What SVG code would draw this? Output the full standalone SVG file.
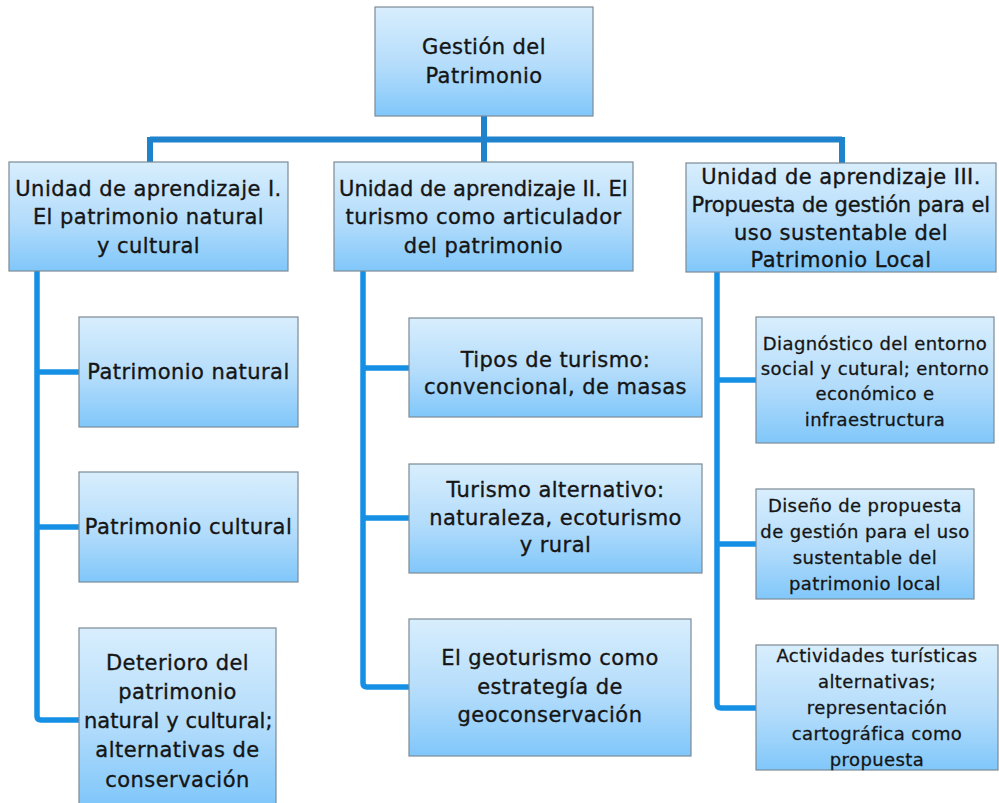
<svg xmlns="http://www.w3.org/2000/svg" width="999" height="803" viewBox="0 0 999 803">
<defs>
<linearGradient id="g" x1="0" y1="0" x2="0" y2="1">
<stop offset="0" stop-color="#d8eefd"/>
<stop offset="0.55" stop-color="#b3dcfb"/>
<stop offset="1" stop-color="#80c7fa"/>
</linearGradient>
</defs>
<style>
.box{fill:url(#g);stroke:#7d8a96;stroke-width:1.2}
.t{font-family:"DejaVu Sans",sans-serif;font-size:21px;letter-spacing:0.45px;fill:#151515;stroke:#151515;stroke-width:0.35px;text-anchor:middle}
.s{font-family:"DejaVu Sans",sans-serif;font-size:18px;letter-spacing:0.4px;fill:#151515;stroke:#151515;stroke-width:0.3px;text-anchor:middle}
.c1{fill:none;stroke:#1e82cc;stroke-width:6}
.c2{fill:none;stroke:#1690e4;stroke-width:5.5;stroke-linejoin:round}
</style>
<rect width="999" height="803" fill="#ffffff"/>
<g id="connectors">
<path class="c1" d="M484,116 V162 M150,139.5 H842 M150,137 V162 M842,137 V163"/>
<path class="c2" d="M37,271 V716 Q37,720 41,720 H79 M37,372 H79 M37,527 H79"/>
<path class="c2" d="M363,271 V683 Q363,687 367,687 H409 M363,368 H409 M363,518 H409"/>
<path class="c2" d="M717,272 V704 Q717,708 721,708 H756 M717,380 H756 M717,544 H756"/>
</g>
<g id="root">
<rect class="box" x="375" y="7" width="218" height="109"/>
<text class="t" x="484" y="54">Gestión del</text>
<text class="t" x="484" y="83">Patrimonio</text>
</g>
<g id="unit1">
<rect class="box" x="9" y="162" width="279" height="109"/>
<text class="t" x="148.5" y="195.5">Unidad de aprendizaje I.</text>
<text class="t" x="148.5" y="224">El patrimonio natural</text>
<text class="t" x="148.5" y="252.5">y cultural</text>
</g>
<g id="unit2">
<rect class="box" x="334" y="162" width="299" height="109"/>
<text class="t" x="483.5" y="195.5" textLength="289" lengthAdjust="spacing">Unidad de aprendizaje II. El</text>
<text class="t" x="483.5" y="224">turismo como articulador</text>
<text class="t" x="483.5" y="252.5">del patrimonio</text>
</g>
<g id="unit3">
<rect class="box" x="686" y="163" width="310" height="109"/>
<text class="t" x="841" y="183.5">Unidad de aprendizaje III.</text>
<text class="t" x="841" y="211.5" textLength="299" lengthAdjust="spacing">Propuesta de gestión para el</text>
<text class="t" x="841" y="239.5">uso sustentable del</text>
<text class="t" x="841" y="267">Patrimonio Local</text>
</g>
<g id="patrimonio-natural">
<rect class="box" x="79" y="317" width="219" height="110"/>
<text class="t" x="188.5" y="379">Patrimonio natural</text>
</g>
<g id="patrimonio-cultural">
<rect class="box" x="79" y="472" width="219" height="110"/>
<text class="t" x="188.5" y="534">Patrimonio cultural</text>
</g>
<g id="deterioro">
<rect class="box" x="79" y="628" width="197" height="176"/>
<text class="t" x="177.5" y="670">Deterioro del</text>
<text class="t" x="177.5" y="699">patrimonio</text>
<text class="t" x="178.5" y="728" textLength="189" lengthAdjust="spacing">natural y cultural;</text>
<text class="t" x="177.5" y="757">alternativas de</text>
<text class="t" x="177.5" y="786.5">conservación</text>
</g>
<g id="tipos-turismo">
<rect class="box" x="409" y="318" width="293" height="99"/>
<text class="t" x="555.5" y="366.5">Tipos de turismo:</text>
<text class="t" x="555.5" y="393.5">convencional, de masas</text>
</g>
<g id="turismo-alternativo">
<rect class="box" x="409" y="464" width="293" height="109"/>
<text class="t" x="555.5" y="497">Turismo alternativo:</text>
<text class="t" x="555.5" y="524.5">naturaleza, ecoturismo</text>
<text class="t" x="555.5" y="552">y rural</text>
</g>
<g id="geoturismo">
<rect class="box" x="409" y="619" width="282" height="137"/>
<text class="t" x="550" y="665">El geoturismo como</text>
<text class="t" x="550" y="693.5">estrategía de</text>
<text class="t" x="550" y="722">geoconservación</text>
</g>
<g id="diagnostico">
<rect class="box" x="756" y="317" width="238" height="126"/>
<text class="s" x="875" y="349.5">Diagnóstico del entorno</text>
<text class="s" x="875" y="375">social y cutural; entorno</text>
<text class="s" x="875" y="400">económico e</text>
<text class="s" x="875" y="425.5">infraestructura</text>
</g>
<g id="diseno">
<rect class="box" x="756" y="489" width="218" height="110"/>
<text class="s" x="865" y="512">Diseño de propuesta</text>
<text class="s" x="865" y="537.5">de gestión para el uso</text>
<text class="s" x="865" y="564">sustentable del</text>
<text class="s" x="865" y="590">patrimonio local</text>
</g>
<g id="actividades">
<rect class="box" x="756" y="645" width="242" height="125"/>
<text class="s" x="877" y="662">Actividades turísticas</text>
<text class="s" x="877" y="688">alternativas;</text>
<text class="s" x="877" y="714">representación</text>
<text class="s" x="877" y="740">cartográfica como</text>
<text class="s" x="877" y="765.5">propuesta</text>
</g>
</svg>
